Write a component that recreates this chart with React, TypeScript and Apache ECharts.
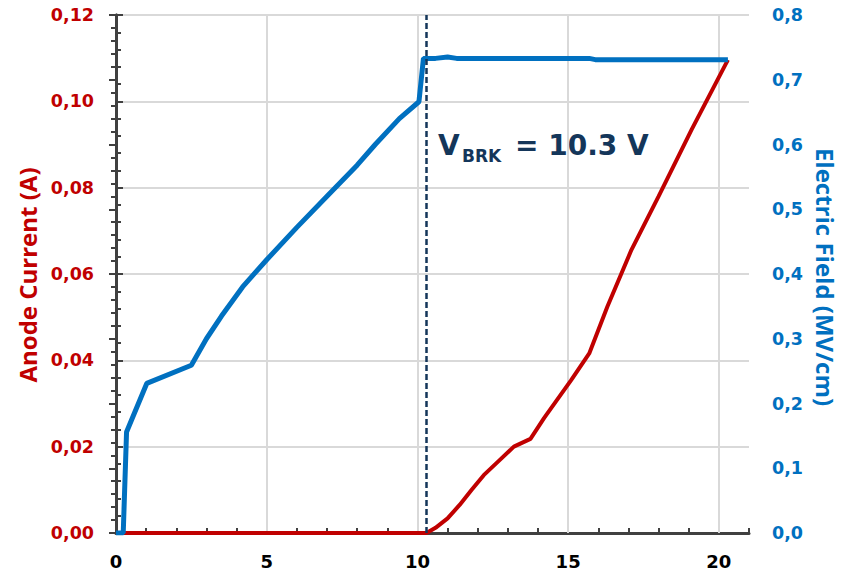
import React, { useEffect, useRef } from "react";
import * as echarts from "echarts";

// Anode voltage (V) vs anode current (A)
const currentPoints: [number, number][] = [
  [0, 0], [10.3, 0], [10.6, 0.0012], [11.0, 0.0034], [11.4, 0.0065], [11.8, 0.01],
  [12.2, 0.0134], [12.7, 0.0167], [13.2, 0.02], [13.75, 0.0218], [14.2, 0.0266],
  [15.1, 0.0354], [15.7, 0.0416], [16.3, 0.0524], [17.1, 0.0656], [18.0, 0.078],
  [19.1, 0.0935], [20.3, 0.1096],
];

// Anode voltage (V) vs peak electric field (MV/cm)
const fieldPoints: [number, number][] = [
  [0, 0], [0.24, 0], [0.35, 0.156], [1.02, 0.231], [2.5, 0.259], [3.0, 0.3],
  [3.5, 0.335], [4.2, 0.38], [5.0, 0.422], [6.0, 0.472], [7.0, 0.52], [8.0, 0.568],
  [8.6, 0.6], [9.4, 0.64], [10.05, 0.666], [10.2, 0.733], [10.6, 0.733], [11.0, 0.735],
  [11.3, 0.733], [15.7, 0.733], [15.9, 0.731], [20.3, 0.731],
];

const breakdownVoltage = 10.3;
const voltageGridLines = [5, 10, 15, 20];

const AXIS_COLOR = "#404040";
const GRID_COLOR = "#d9d9d9";
const RED = "#c00000";
const BLUE = "#0070c0";
const NAVY = "#14365a";
const TICK_FONT = "'DejaVu Sans', Verdana, sans-serif";
const TITLE_FONT = "'Open Sans', 'Noto Sans', sans-serif";

export default function App() {
  const ref = useRef<HTMLDivElement>(null);

  useEffect(() => {
    if (!ref.current) return;
    const chart = echarts.init(ref.current, undefined, { renderer: "svg" });

    const axisLine = { show: true, lineStyle: { color: AXIS_COLOR, width: 3 } };
    const tickStyle = { color: AXIS_COLOR, width: 2 };

    chart.setOption({
      animation: false,
      backgroundColor: "#ffffff",
      grid: { left: 116, right: 93, top: 15, bottom: 44, containLabel: false },
      xAxis: [
        {
          type: "value",
          min: 0,
          max: 21,
          interval: 5,
          axisLine,
          axisTick: { show: false },
          splitLine: { show: false },
          axisLabel: {
            color: "#000000",
            fontFamily: TICK_FONT,
            fontWeight: "bold",
            fontSize: 18,
            margin: 19,
            formatter: (v: number) => (v % 5 === 0 ? String(v) : ""),
          },
        },
        {
          type: "value",
          position: "bottom",
          min: 0,
          max: 21,
          interval: 1,
          axisLine: { show: false },
          axisLabel: { show: false },
          splitLine: { show: false },
          axisTick: { show: true, inside: true, length: 5, lineStyle: tickStyle },
        },
      ],
      yAxis: [
        {
          type: "value",
          min: 0,
          max: 0.12,
          interval: 0.02,
          position: "left",
          axisLine,
          axisTick: { show: true, inside: true, length: 7, lineStyle: tickStyle },
          minorTick: { show: true, splitNumber: 5, length: 5, lineStyle: tickStyle },
          splitLine: { show: true, lineStyle: { color: GRID_COLOR, width: 2 } },
          axisLabel: {
            color: RED,
            fontFamily: TICK_FONT,
            fontWeight: "bold",
            fontSize: 17.5,
            margin: 22,
            formatter: (v: number) => v.toFixed(2).replace(".", ","),
          },
        },
        {
          type: "value",
          min: 0,
          max: 0.8,
          interval: 0.1,
          position: "right",
          axisLine,
          axisTick: { show: true, inside: true, length: 7, lineStyle: tickStyle },
          minorTick: { show: true, splitNumber: 5, length: 5, lineStyle: tickStyle },
          splitLine: { show: false },
          axisLabel: {
            color: BLUE,
            fontFamily: TICK_FONT,
            fontWeight: "bold",
            fontSize: 17.5,
            margin: 23,
            formatter: (v: number) => v.toFixed(1).replace(".", ","),
          },
        },
      ],
      series: [
        {
          // vertical voltage gridlines
          type: "line",
          xAxisIndex: 0,
          yAxisIndex: 0,
          data: [[0, 0]],
          showSymbol: false,
          lineStyle: { opacity: 0 },
          silent: true,
          z: 1,
          markLine: {
            silent: true,
            symbol: "none",
            z: 1,
            label: { show: false },
            lineStyle: { color: GRID_COLOR, width: 2, type: "solid" },
            data: voltageGridLines.map((v) => ({ xAxis: v })),
          },
        },
        {
          name: "Anode Current",
          type: "line",
          xAxisIndex: 0,
          yAxisIndex: 0,
          data: currentPoints,
          showSymbol: false,
          lineStyle: { color: RED, width: 4 },
          itemStyle: { color: RED },
          z: 3,
        },
        {
          name: "Electric Field",
          type: "line",
          xAxisIndex: 0,
          yAxisIndex: 1,
          data: fieldPoints,
          showSymbol: false,
          lineStyle: { color: BLUE, width: 5 },
          itemStyle: { color: BLUE },
          z: 4,
        },
        {
          // breakdown voltage marker
          type: "line",
          xAxisIndex: 0,
          yAxisIndex: 0,
          data: [[0, 0]],
          showSymbol: false,
          lineStyle: { opacity: 0 },
          silent: true,
          z: 5,
          markLine: {
            silent: true,
            symbol: "none",
            z: 5,
            label: { show: false },
            lineStyle: { color: NAVY, width: 2.5, type: [6, 3] },
            data: [{ xAxis: breakdownVoltage }],
          },
        },
      ],
      graphic: [
        {
          type: "text",
          x: 27,
          y: 275,
          rotation: Math.PI / 2,
          style: {
            text: "Anode Current (A)",
            fill: RED,
            font: `bold 24px ${TITLE_FONT}`,
            align: "center",
            verticalAlign: "middle",
          },
        },
        {
          type: "text",
          x: 825,
          y: 277,
          rotation: -Math.PI / 2,
          style: {
            text: "Electric Field (MV/cm)",
            fill: BLUE,
            font: `bold 24px ${TITLE_FONT}`,
            align: "center",
            verticalAlign: "middle",
          },
        },
        {
          type: "text",
          x: 438,
          y: 145,
          style: {
            text: "V",
            fill: NAVY,
            font: `bold 28px ${TICK_FONT}`,
            align: "left",
            verticalAlign: "middle",
          },
        },
        {
          type: "text",
          x: 462,
          y: 156,
          style: {
            text: "BRK",
            fill: NAVY,
            font: `bold 17px ${TICK_FONT}`,
            align: "left",
            verticalAlign: "middle",
          },
        },
        {
          type: "text",
          x: 515,
          y: 145,
          style: {
            text: `= ${breakdownVoltage.toFixed(1)} V`,
            fill: NAVY,
            font: `bold 28px ${TICK_FONT}`,
            align: "left",
            verticalAlign: "middle",
          },
        },
      ],
    });

    return () => chart.dispose();
  }, []);

  return <div ref={ref} style={{ width: 842, height: 577, position: "absolute", left: 0, top: 0 }} />;
}
